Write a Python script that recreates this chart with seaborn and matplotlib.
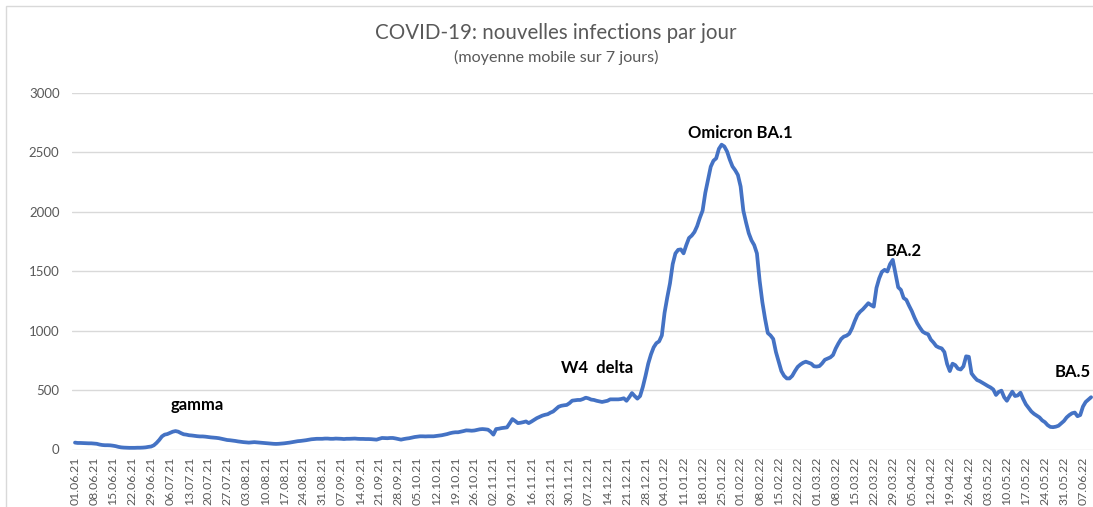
import pandas as pd
import matplotlib.pyplot as plt
from matplotlib.patches import Rectangle
import seaborn as sns

# daily 7-day moving average, starting 01.06.21 (one row per week)
cases = [
    58, 55, 55, 54, 53, 52, 52,
    50, 48, 42, 38, 36, 36, 35,
    32, 28, 22, 18, 16, 15, 14,
    14, 14, 15, 15, 16, 18, 22,
    25, 35, 55, 80, 110, 125, 130,
    140, 150, 155, 150, 138, 128, 125,
    120, 118, 115, 112, 110, 110, 108,
    105, 102, 100, 98, 95, 90, 85,
    80, 78, 75, 72, 68, 65, 62,
    60, 58, 60, 62, 60, 58, 56,
    54, 52, 50, 48, 47, 48, 50,
    52, 55, 58, 62, 66, 70, 72,
    75, 78, 82, 86, 88, 90, 90,
    90, 92, 92, 90, 90, 92, 91,
    90, 88, 90, 90, 91, 92, 90,
    89, 89, 88, 88, 87, 85, 83,
    90, 97, 96, 95, 97, 97, 93,
    88, 83, 88, 92, 95, 100, 105,
    108, 111, 111, 110, 111, 111, 111,
    114, 117, 120, 125, 130, 137, 142,
    145, 145, 150, 155, 161, 160, 158,
    160, 165, 170, 172, 170, 167, 150,
    125, 172, 175, 180, 183, 186, 220,
    256, 240, 222, 225, 230, 236, 222,
    235, 250, 264, 275, 285, 292, 297,
    310, 320, 340, 360, 368, 372, 375,
    390, 411, 414, 417, 417, 425, 436,
    430, 420, 417, 410, 405, 400, 405,
    410, 422, 422, 422, 422, 425, 431,
    410, 440, 475, 450, 428, 450, 526,
    620, 723, 800, 860, 895, 910, 960,
    1150, 1280, 1398, 1560, 1650, 1680, 1684,
    1651, 1720, 1780, 1800, 1830, 1880, 1950,
    2010, 2160, 2270, 2380, 2430, 2450, 2530,
    2565, 2550, 2508, 2440, 2382, 2350, 2310,
    2213, 2010, 1910, 1820, 1760, 1720, 1650,
    1420, 1240, 1100, 980, 960, 930, 820,
    740, 660, 620, 598, 598, 620, 660,
    695, 715, 730, 739, 730, 722, 700,
    698, 702, 725, 755, 765, 775, 795,
    850, 893, 930, 950, 958, 975, 1020,
    1080, 1132, 1160, 1180, 1205, 1231, 1215,
    1202, 1360, 1440, 1495, 1512, 1498, 1560,
    1596, 1480, 1365, 1343, 1275, 1259, 1210,
    1165, 1110, 1062, 1025, 992, 978, 970,
    925, 900, 870, 858, 851, 820, 720,
    660, 722, 710, 680, 673, 700, 784,
    780, 640, 610, 585, 575, 562, 548,
    534, 522, 505, 459, 485, 495, 440,
    410, 450, 487, 450, 455, 478, 425,
    380, 350, 320, 300, 285, 270, 245,
    230, 205, 190, 188, 192, 200, 220,
    240, 270, 290, 305, 311, 280, 290,
    361, 400, 420, 440,
]

week_labels = [
    '01.06.21', '08.06.21', '15.06.21', '22.06.21', '29.06.21', '06.07.21',
    '13.07.21', '20.07.21', '27.07.21', '03.08.21', '10.08.21', '17.08.21',
    '24.08.21', '31.08.21', '07.09.21', '14.09.21', '21.09.21', '28.09.21',
    '05.10.21', '12.10.21', '19.10.21', '26.10.21', '02.11.21', '09.11.21',
    '16.11.21', '23.11.21', '30.11.21', '07.12.21', '14.12.21', '21.12.21',
    '28.12.21', '04.01.22', '11.01.22', '18.01.22', '25.01.22', '01.02.22',
    '08.02.22', '15.02.22', '22.02.22', '01.03.22', '08.03.22', '15.03.22',
    '22.03.22', '29.03.22', '05.04.22', '12.04.22', '19.04.22', '26.04.22',
    '03.05.22', '10.05.22', '17.05.22', '24.05.22', '31.05.22', '07.06.22',
]

# wave labels: (text, day index, value, alignment)
waves = [
    ('gamma', 45, 373, 'center'),
    ('W4  delta', 192, 683, 'center'),
    ('Omicron BA.1', 245, 2661, 'center'),
    ('BA.2', 305, 1672, 'center'),
    ('BA.5', 373.8, 649, 'right'),
]

df = pd.DataFrame({'day': range(len(cases)), 'cases': cases})

sns.set_theme(style='white')
plt.rcParams['font.family'] = ['Lato', 'DejaVu Sans']
grey = '#595959'

fig = plt.figure(figsize=(10.93, 5.07), dpi=100)
ax = fig.add_axes([72 / 1093, 1 - 449.5 / 507, 1 - 72 / 1093, (449.5 - 93) / 507])

sns.lineplot(data=df, x='day', y='cases', ax=ax, color='#4472C4', linewidth=2.7)

ax.set_xlim(-1.1, 374.7)
ax.set_ylim(0, 3000)
ax.set_yticks(range(0, 3001, 500))
ax.set_xticks(range(0, 7 * len(week_labels), 7))
ax.set_xticklabels(week_labels, rotation=90, va='top')
ax.tick_params(axis='x', colors=grey, labelsize=8.8, length=0, pad=5)
ax.tick_params(axis='y', colors=grey, labelsize=9.5, length=0, pad=9)
ax.set_xlabel('')
ax.set_ylabel('')
ax.grid(axis='y', color='#D9D9D9', linewidth=1)
ax.set_axisbelow(True)
for s in ax.spines.values():
    s.set_visible(False)

for text, d, v, ha in waves:
    ax.text(d, v, text, ha=ha, va='center', fontsize=12, fontweight='bold', color='black')

fig.text(556 / 1093, 1 - 33 / 507, 'COVID-19: nouvelles infections par jour',
         ha='center', va='center', fontsize=14.8, color=grey)
fig.text(556 / 1093, 1 - 57 / 507, '(moyenne mobile sur 7 jours)',
         ha='center', va='center', fontsize=11.6, color=grey)

# chart area border
fig.add_artist(Rectangle((6 / 1093, -0.1), 1.2, 1.1 - 6 / 507, transform=fig.transFigure,
                         fill=False, edgecolor='#D9D9D9', linewidth=1))

plt.savefig('out.png', dpi=100)
plt.close()
